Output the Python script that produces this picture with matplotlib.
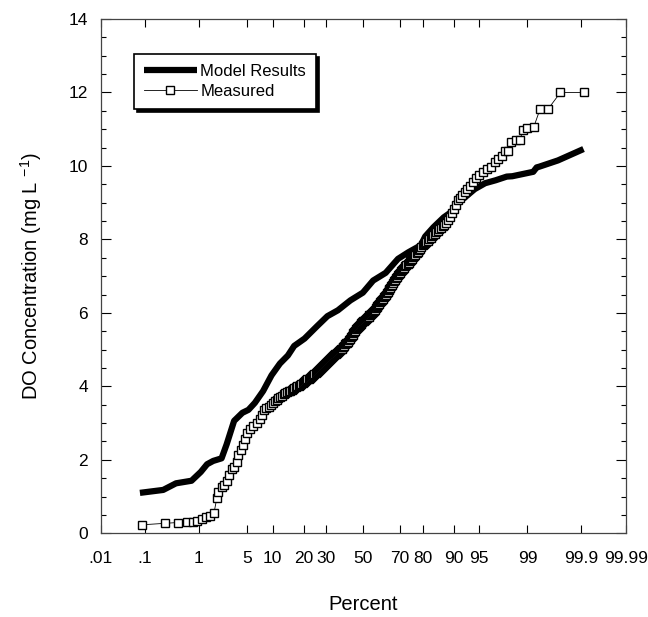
import numpy as np
import matplotlib
matplotlib.use("Agg")
import matplotlib.pyplot as plt
from matplotlib.ticker import FixedLocator, MultipleLocator
from statistics import NormalDist

plt.rcParams['font.family'] = ['Liberation Sans', 'DejaVu Sans']
plt.rcParams['mathtext.fontset'] = 'custom'
plt.rcParams['mathtext.rm'] = 'Liberation Sans'

# model results: percent vs DO (mg/L)
model_pct = [0.078, 0.23, 0.40, 0.75, 1.07, 1.35, 1.68, 2.24, 2.65, 3.37, 4.35, 5.2,
             6.24, 7.8, 9.7, 11.9, 14.3, 16.4, 20.3, 25.7, 30.6, 36.0, 42.8, 49.8,
             55.6, 62.5, 68.9, 73.9, 79.3, 81.0, 84.0, 87.3, 89.6, 90.6, 92.4, 94.3,
             95.8, 96.97, 97.9, 98.27, 99.2, 99.3, 99.37, 99.71, 99.91]
model_do = [1.10, 1.18, 1.36, 1.43, 1.67, 1.88, 1.97, 2.04, 2.42, 3.06, 3.28, 3.36,
            3.55, 3.87, 4.30, 4.62, 4.84, 5.10, 5.30, 5.64, 5.91, 6.07, 6.34, 6.55,
            6.88, 7.09, 7.47, 7.65, 7.84, 8.08, 8.33, 8.60, 8.76, 8.99, 9.13, 9.37,
            9.53, 9.61, 9.71, 9.72, 9.84, 9.96, 9.98, 10.15, 10.46]

# measured: percent vs DO (mg/L)
meas_pct = [0.085, 0.25, 0.44, 0.635, 0.8, 0.91, 1.1, 1.3, 1.5, 1.73, 1.9, 2.0,
            2.25, 2.43, 2.66, 2.89, 3.12, 3.36, 3.66, 3.84, 4.13, 4.47, 4.7, 4.95,
            5.43, 5.97, 6.57, 7.2,
            7.5, 8, 8.5, 9, 9.5, 10, 10.5, 11, 11.5, 12, 12.5, 13, 13.5, 14, 14.5,
            15, 15.5, 16, 16.5, 17, 17.5, 18, 18.5, 19, 19.5, 20, 20.5, 21, 21.5,
            22, 22.5, 23, 23.5, 24, 24.5, 25, 25.5, 26, 26.5, 27, 27.5, 28, 28.5,
            29, 29.5, 30, 30.5, 31, 31.5, 32, 32.5, 33, 33.5, 34, 34.5, 35, 35.5,
            36, 36.5, 37, 37.5, 38, 38.5, 39, 39.5, 40, 40.5, 41, 41.5, 42, 42.5,
            43, 43.5, 44, 44.5, 45, 45.5, 46, 46.5, 47, 47.5, 48, 48.5, 49, 49.5,
            50, 50.5, 51, 51.5, 52, 52.5, 53, 53.5, 54, 54.5, 55, 55.5, 56, 56.5,
            57, 57.5, 58, 58.5, 59, 59.5, 60, 60.5, 61, 61.5, 62, 62.5, 63, 63.5,
            64, 64.5, 65, 65.5, 66, 66.5, 67, 67.5, 68, 68.5, 69, 69.5, 70, 70.5,
            71, 71.5, 72, 72.5, 73, 73.5, 74, 74.5, 75, 75.5, 76, 76.5, 77, 77.5,
            78, 78.5, 79, 79.5, 80, 80.5, 81, 81.5, 82, 82.5, 83, 83.5, 84, 84.5,
            85, 85.5, 86, 86.5, 87, 87.5, 88, 88.5, 89, 89.5, 90, 90.5, 91, 91.5,
            92, 92.5, 93, 93.5, 94, 94.5, 95,
            95.5, 96, 96.5, 96.9, 97.2, 97.5, 97.8, 98.0, 98.2,
            98.5, 98.7, 98.8, 99.0, 99.22, 99.39, 99.56, 99.74, 99.91]
meas_do = [0.23, 0.27, 0.29, 0.31, 0.32, 0.33, 0.38, 0.43, 0.47, 0.56, 0.95, 1.13,
           1.25, 1.31, 1.43, 1.58, 1.76, 1.80, 1.94, 2.12, 2.28, 2.40, 2.58, 2.72,
           2.83, 2.92, 3.00, 3.12,
           3.22, 3.35, 3.40, 3.45, 3.50, 3.55, 3.60, 3.64, 3.68, 3.72, 3.75, 3.78,
           3.81, 3.84, 3.86, 3.88, 3.91, 3.93, 3.95, 3.97, 4.00, 4.02, 4.05, 4.07,
           4.10, 4.12, 4.15, 4.17, 4.19, 4.21, 4.24, 4.26, 4.29, 4.31, 4.34, 4.36,
           4.39, 4.41, 4.44, 4.47, 4.50, 4.53, 4.56, 4.59, 4.62, 4.64, 4.67, 4.69,
           4.72, 4.74, 4.77, 4.79, 4.82, 4.84, 4.87, 4.89, 4.92, 4.94, 4.96, 4.98,
           5.01, 5.03, 5.06, 5.08, 5.11, 5.14, 5.17, 5.19, 5.22, 5.25, 5.29, 5.33,
           5.37, 5.41, 5.45, 5.48, 5.52, 5.55, 5.58, 5.61, 5.64, 5.67, 5.70, 5.72,
           5.75, 5.77, 5.79, 5.81, 5.83, 5.85, 5.88, 5.90, 5.93, 5.95, 5.98, 6.00,
           6.03, 6.06, 6.09, 6.12, 6.15, 6.18, 6.22, 6.25, 6.29, 6.32, 6.35, 6.38,
           6.42, 6.45, 6.49, 6.53, 6.57, 6.61, 6.65, 6.69, 6.73, 6.77, 6.82, 6.86,
           6.90, 6.94, 6.98, 7.02, 7.06, 7.09, 7.13, 7.16, 7.20, 7.23, 7.27, 7.30,
           7.34, 7.37, 7.41, 7.44, 7.48, 7.51, 7.55, 7.58, 7.62, 7.65, 7.70, 7.75,
           7.80, 7.84, 7.88, 7.91, 7.94, 7.97, 8.01, 8.04, 8.08, 8.11, 8.15, 8.19,
           8.23, 8.27, 8.32, 8.36, 8.40, 8.45, 8.53, 8.62, 8.72, 8.82, 8.94, 9.06,
           9.14, 9.22, 9.29, 9.36, 9.46, 9.56, 9.66, 9.75,
           9.83, 9.93, 9.98, 10.11, 10.20, 10.27, 10.41, 10.40, 10.64,
           10.70, 10.70, 10.98, 11.02, 11.07, 11.55, 11.55, 12.0, 12.0]

tick_pct = [0.01, 0.1, 1, 5, 10, 20, 30, 50, 70, 80, 90, 95, 99, 99.9, 99.99]
tick_lbl = ['.01', '.1', '1', '5', '10', '20', '30', '50', '70', '80', '90', '95',
            '99', '99.9', '99.99']

_nd = NormalDist()
_ppf = np.vectorize(lambda p: _nd.inv_cdf(min(max(p / 100.0, 1e-9), 1 - 1e-9)),
                    otypes=[float])
_cdf = np.vectorize(lambda z: 100.0 * _nd.cdf(z), otypes=[float])


def fwd(p):
    return _ppf(np.asarray(p, dtype=float))


def inv(z):
    return _cdf(np.asarray(z, dtype=float))


fig = plt.figure(figsize=(6.48, 6.17), dpi=100)
ax = fig.add_axes([0.1554, 0.1357, 0.8102, 0.8335])
ax.set_xscale('function', functions=(fwd, inv))

ax.plot(model_pct, model_do, color='black', lw=4.5, solid_capstyle='butt',
        label='Model Results')
ax.plot(meas_pct, meas_do, color='black', lw=0.6, marker='s', ms=6.3,
        mfc='white', mec='black', mew=1.0, label='Measured')

ax.set_xlim(0.01, 99.99)
ax.set_ylim(0, 14)
ax.xaxis.set_major_locator(FixedLocator(tick_pct))
ax.xaxis.set_minor_locator(FixedLocator([]))
ax.set_xticklabels(tick_lbl)
ax.yaxis.set_major_locator(MultipleLocator(2))
ax.yaxis.set_minor_locator(MultipleLocator(0.5))

ax.tick_params(axis='x', which='major', direction='in', length=6, width=0.8,
               top=True, pad=13, labelsize=12.5)
ax.tick_params(axis='y', which='major', direction='in', length=7, width=0.8,
               right=True, pad=9, labelsize=12.5)
ax.tick_params(axis='y', which='minor', direction='in', length=3.5, width=0.8,
               right=True)
for s in ax.spines.values():
    s.set_color('#444444')
    s.set_linewidth(0.9)

ax.set_xlabel('Percent', fontsize=14.5, labelpad=21)
ax.set_ylabel(r'DO Concentration (mg L $^{\mathrm{-1}}$)', fontsize=14.5, labelpad=18)

leg = ax.legend(loc='upper left', bbox_to_anchor=(0.063, 0.932), borderaxespad=0,
                fontsize=12, handlelength=3.2, handletextpad=0.2, labelspacing=0.3,
                borderpad=0.6, fancybox=False, edgecolor='black', framealpha=1,
                shadow={'color': 'black', 'alpha': 1})
leg.get_frame().set_linewidth(1.2)

fig.savefig('out.png', dpi=100)
